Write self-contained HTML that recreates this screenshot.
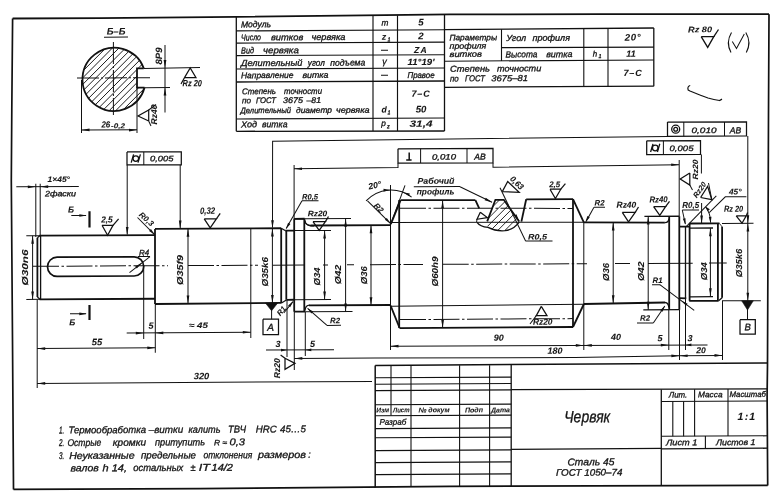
<!DOCTYPE html>
<html lang="ru"><head><meta charset="utf-8"><title>Червяк</title>
<style>
html,body{margin:0;padding:0;background:#fff;}
body{width:780px;height:501px;overflow:hidden;}
svg{display:block;filter:grayscale(100%);}
svg text{font-family:"Liberation Sans","DejaVu Sans",sans-serif;font-style:italic;fill:#151515;stroke:#151515;stroke-width:0.32px;stroke-linejoin:round;}
svg text[font-weight="bold"]{stroke-width:0.08px;}
</style></head><body>
<svg width="780" height="501" viewBox="0 0 780 501">
<rect x="0" y="0" width="780" height="501" fill="#fff"/>
<g transform="matrix(1 -0.0046 0 1 0 0)" stroke="#111" fill="none" stroke-linecap="butt" stroke-linejoin="miter">
<polyline points="12.6,18.56 100,18.66 236,17.99 450,16.47 600,16.86 769,17.74" stroke-width="1.8" fill="none"/>
<polyline points="769,17.74 768.5,118.54 767.5,368.53 767.1,398.53 767.7,488.93" stroke-width="1.7" fill="none"/>
<polyline points="12.6,18.56 11.8,110.05 11.3,180.05 12.5,340.06 13.5,489.46" stroke-width="1.7" fill="none"/>
<polyline points="13.5,489.46 200,489.52 450,488.47 767.7,488.93" stroke-width="1.7" fill="none"/>
<clipPath id="cs"><path d="M 143.76 68.4 A 31.6 31.6 0 1 0 144.56 87.7 L 137.0 87.7 L 137.0 68.4 Z"/></clipPath>
<g clip-path="url(#cs)" stroke-width="0.95" transform="translate(0 0.52)">
<line x1="8.1" y1="119.3" x2="88.1" y2="39.3"/>
<line x1="14.7" y1="119.3" x2="94.7" y2="39.3"/>
<line x1="21.3" y1="119.3" x2="101.3" y2="39.3"/>
<line x1="27.9" y1="119.3" x2="107.9" y2="39.3"/>
<line x1="34.5" y1="119.3" x2="114.5" y2="39.3"/>
<line x1="41.1" y1="119.3" x2="121.1" y2="39.3"/>
<line x1="47.7" y1="119.3" x2="127.7" y2="39.3"/>
<line x1="54.3" y1="119.3" x2="134.3" y2="39.3"/>
<line x1="60.9" y1="119.3" x2="140.9" y2="39.3"/>
<line x1="67.5" y1="119.3" x2="147.5" y2="39.3"/>
<line x1="74.1" y1="119.3" x2="154.1" y2="39.3"/>
<line x1="80.7" y1="119.3" x2="160.7" y2="39.3"/>
<line x1="87.3" y1="119.3" x2="167.3" y2="39.3"/>
<line x1="93.9" y1="119.3" x2="173.9" y2="39.3"/>
<line x1="100.5" y1="119.3" x2="180.5" y2="39.3"/>
<line x1="107.1" y1="119.3" x2="187.1" y2="39.3"/>
<line x1="113.7" y1="119.3" x2="193.7" y2="39.3"/>
<line x1="120.3" y1="119.3" x2="200.3" y2="39.3"/>
<line x1="126.9" y1="119.3" x2="206.9" y2="39.3"/>
<line x1="133.5" y1="119.3" x2="213.5" y2="39.3"/>
<line x1="140.1" y1="119.3" x2="220.1" y2="39.3"/>
<line x1="146.7" y1="119.3" x2="226.7" y2="39.3"/>
<line x1="153.3" y1="119.3" x2="233.3" y2="39.3"/>
<line x1="159.9" y1="119.3" x2="239.9" y2="39.3"/>
</g>
<path d="M 143.76 68.4 A 31.6 31.6 0 1 0 144.56 87.7" stroke-width="1.8" fill="none" transform="translate(0 0.52)"/>
<polyline points="143.76,69.06 137,69.03 137,88.33 144.56,88.36" stroke-width="1.8" fill="none"/>
<line x1="143.76" y1="69.06" x2="200" y2="68.52" stroke-width="1"/>
<line x1="144.56" y1="88.36" x2="170" y2="88.18" stroke-width="1"/>
<line x1="77" y1="78.45" x2="150" y2="78.45" stroke-width="1" stroke-dasharray="22 2 2 2"/>
<line x1="113.4" y1="42.52" x2="113.4" y2="115.52" stroke-width="1" stroke-dasharray="22 2 2 2"/>
<text transform="translate(116 35.03)" font-size="9.5" text-anchor="middle" font-weight="bold">Б–Б</text>
<line x1="104" y1="37.68" x2="128" y2="37.68" stroke-width="1"/>
<line x1="165" y1="45.76" x2="165" y2="113.26" stroke-width="1"/>
<polygon points="165,68.76 163.65,60.76 166.35,60.76" fill="#111" stroke="none"/>
<polygon points="165,88.26 166.35,96.26 163.65,96.26" fill="#111" stroke="none"/>
<text transform="translate(162 65.25) rotate(-90)" font-size="9.2" font-weight="bold" textLength="17" lengthAdjust="spacingAndGlyphs">8P9</text>
<polyline points="184.5,78.45 190.2,68.87 196,78.5 184.5,78.45 181,84.83" stroke-width="1.2" fill="none"/>
<text transform="translate(182.5 87.14)" font-size="9" font-weight="bold" textLength="19.5" lengthAdjust="spacingAndGlyphs">Rz 20</text>
<polyline points="148.7,121.68 138,116.63 148.7,110.68 148.7,121.68" stroke-width="1.2" fill="none"/>
<line x1="148.7" y1="121.68" x2="151" y2="126.69" stroke-width="1"/>
<line x1="148.7" y1="110.68" x2="156" y2="105.22" stroke-width="1"/>
<text transform="translate(157 125.22) rotate(-90)" font-size="8.4" font-weight="bold" textLength="20" lengthAdjust="spacingAndGlyphs">Rz40</text>
<line x1="81.5" y1="80.37" x2="81.5" y2="133.37" stroke-width="1"/>
<line x1="137" y1="88.13" x2="137" y2="133.63" stroke-width="1"/>
<line x1="81.5" y1="130.37" x2="137" y2="130.37" stroke-width="1"/>
<polygon points="81.5,130.37 89.5,129.02 89.5,131.72" fill="#111" stroke="none"/>
<polygon points="137,130.63 129,131.98 129,129.28" fill="#111" stroke="none"/>
<text transform="translate(101.4 128.07)" font-size="8.8" font-weight="bold" textLength="8.8" lengthAdjust="spacingAndGlyphs">26</text>
<text transform="translate(111 128.71)" font-size="7" font-weight="bold" textLength="14" lengthAdjust="spacingAndGlyphs">-0,2</text>
<line x1="236.3" y1="31.99" x2="444.5" y2="31.84" stroke-width="1.15"/>
<line x1="236.3" y1="44.19" x2="444.5" y2="44.24" stroke-width="1.15"/>
<line x1="236.3" y1="56.69" x2="444.5" y2="56.84" stroke-width="1.15"/>
<line x1="236.3" y1="70.09" x2="444.5" y2="70.04" stroke-width="1.15"/>
<line x1="236.3" y1="83.09" x2="444.5" y2="83.04" stroke-width="1.3"/>
<line x1="236.3" y1="120.09" x2="444.5" y2="120.04" stroke-width="1.15"/>
<line x1="236.3" y1="132.39" x2="444.5" y2="133.04" stroke-width="1.3"/>
<line x1="236.3" y1="18.09" x2="236.3" y2="132.39" stroke-width="1.3"/>
<line x1="373" y1="17.12" x2="373" y2="132.82" stroke-width="1.15"/>
<line x1="397.5" y1="17.03" x2="397.5" y2="132.83" stroke-width="1.15"/>
<line x1="444.5" y1="16.54" x2="444.5" y2="133.04" stroke-width="1.3"/>
<text transform="translate(241 28.51)" font-size="8.8" textLength="30" lengthAdjust="spacingAndGlyphs">Модуль</text>
<text transform="translate(241 41.51)" font-size="8.8" textLength="20" lengthAdjust="spacingAndGlyphs">Число</text>
<text transform="translate(271 41.51)" font-size="8.8" textLength="32.3" lengthAdjust="spacingAndGlyphs">витков</text>
<text transform="translate(311.4 41.51)" font-size="8.8" textLength="34.1" lengthAdjust="spacingAndGlyphs">червяка</text>
<text transform="translate(241 54.51)" font-size="8.8" textLength="13" lengthAdjust="spacingAndGlyphs">Вид</text>
<text transform="translate(263 54.51)" font-size="8.8" textLength="35.8" lengthAdjust="spacingAndGlyphs">червяка</text>
<text transform="translate(241 67.21)" font-size="8.8" textLength="61.4" lengthAdjust="spacingAndGlyphs">Делительный</text>
<text transform="translate(307.8 67.21)" font-size="8.8" textLength="17.1" lengthAdjust="spacingAndGlyphs">угол</text>
<text transform="translate(330.3 67.21)" font-size="8.8" textLength="35" lengthAdjust="spacingAndGlyphs">подъема</text>
<text transform="translate(241 79.31)" font-size="8.4" textLength="52.5" lengthAdjust="spacingAndGlyphs">Направление</text>
<text transform="translate(302.4 79.31)" font-size="8.4" textLength="26.1" lengthAdjust="spacingAndGlyphs">витка</text>
<text transform="translate(242 95.31)" font-size="8.4" textLength="34" lengthAdjust="spacingAndGlyphs">Степень</text>
<text transform="translate(284 95.31)" font-size="8.4" textLength="38" lengthAdjust="spacingAndGlyphs">точности</text>
<text transform="translate(242 104.31)" font-size="8.2" textLength="9" lengthAdjust="spacingAndGlyphs">по</text>
<text transform="translate(256 104.31)" font-size="8.2" textLength="20" lengthAdjust="spacingAndGlyphs">ГОСТ</text>
<text transform="translate(283 104.31)" font-size="8.2" textLength="20" lengthAdjust="spacingAndGlyphs">3675</text>
<text transform="translate(306.5 104.31)" font-size="8.2" textLength="14.5" lengthAdjust="spacingAndGlyphs">–81</text>
<text transform="translate(240.5 114.31)" font-size="8.2" textLength="50.5" lengthAdjust="spacingAndGlyphs">Делительный</text>
<text transform="translate(296 114.31)" font-size="8.2" textLength="36" lengthAdjust="spacingAndGlyphs">диаметр</text>
<text transform="translate(336 114.31)" font-size="8.2" textLength="33.5" lengthAdjust="spacingAndGlyphs">червяка</text>
<text transform="translate(241 128.51)" font-size="8.8" textLength="16" lengthAdjust="spacingAndGlyphs">Ход</text>
<text transform="translate(262 128.51)" font-size="8.8" textLength="25.5" lengthAdjust="spacingAndGlyphs">витка</text>
<text transform="translate(385 27.37)" font-size="8.3" text-anchor="middle">m</text>
<text transform="translate(384 41.37)" font-size="8.3" text-anchor="middle">z</text>
<text transform="translate(387.5 43.08)" font-size="5.5">1</text>
<line x1="381" y1="52.05" x2="388" y2="52.05" stroke-width="1"/>
<text transform="translate(384.5 66.37)" font-size="9" text-anchor="middle">γ</text>
<line x1="381" y1="77.05" x2="388" y2="77.05" stroke-width="1"/>
<text transform="translate(384 114.37)" font-size="8.6" text-anchor="middle" font-weight="bold">d</text>
<text transform="translate(387.6 115.98)" font-size="5.5">1</text>
<text transform="translate(383.5 127.76)" font-size="8.3" text-anchor="middle">p</text>
<text transform="translate(387 130.08)" font-size="5.5">z</text>
<text transform="translate(421 27.54)" font-size="9.6" text-anchor="middle" font-weight="bold">5</text>
<text transform="translate(421 41.14)" font-size="9.6" text-anchor="middle" font-weight="bold">2</text>
<text transform="translate(421 54.94)" font-size="8.6" text-anchor="middle" font-weight="bold" letter-spacing="1.2">ZA</text>
<text transform="translate(421 66.94)" font-size="9" text-anchor="middle" font-weight="bold" textLength="27" lengthAdjust="spacingAndGlyphs">11°19′</text>
<text transform="translate(421 79.94)" font-size="8.4" text-anchor="middle" textLength="27" lengthAdjust="spacingAndGlyphs">Правое</text>
<text transform="translate(421 98.74)" font-size="9" text-anchor="middle" font-weight="bold" letter-spacing="0.8">7–C</text>
<text transform="translate(421 114.44)" font-size="9.6" text-anchor="middle" font-weight="bold">50</text>
<text transform="translate(421 128.74)" font-size="9" text-anchor="middle" font-weight="bold" textLength="23" lengthAdjust="spacingAndGlyphs">31,4</text>
<line x1="444.5" y1="31.74" x2="653.8" y2="31.01" stroke-width="1.3"/>
<line x1="501.5" y1="49.91" x2="653.8" y2="50.11" stroke-width="1.1"/>
<line x1="444.5" y1="63.24" x2="653.8" y2="63.01" stroke-width="1.1"/>
<line x1="444.5" y1="89.34" x2="653.8" y2="89.21" stroke-width="1.3"/>
<line x1="653.8" y1="31.01" x2="653.8" y2="89.21" stroke-width="1.3"/>
<line x1="501.5" y1="31.61" x2="501.5" y2="63.31" stroke-width="1.1"/>
<line x1="583.8" y1="31.29" x2="583.8" y2="89.29" stroke-width="1.1"/>
<line x1="608" y1="31.2" x2="608" y2="89.3" stroke-width="1.1"/>
<text transform="translate(449.5 42.47)" font-size="8.2" textLength="47.5" lengthAdjust="spacingAndGlyphs">Параметры</text>
<text transform="translate(449.5 50.77)" font-size="8.2" textLength="36.8" lengthAdjust="spacingAndGlyphs">профиля</text>
<text transform="translate(449.5 58.97)" font-size="8.2" textLength="32.5" lengthAdjust="spacingAndGlyphs">витков</text>
<text transform="translate(506.2 43.33)" font-size="8.8" textLength="20" lengthAdjust="spacingAndGlyphs">Угол</text>
<text transform="translate(532.5 43.33)" font-size="8.8" textLength="37.5" lengthAdjust="spacingAndGlyphs">профиля</text>
<text transform="translate(505.5 59.73)" font-size="8.8" textLength="32" lengthAdjust="spacingAndGlyphs">Высота</text>
<text transform="translate(546.2 59.73)" font-size="8.8" textLength="26.3" lengthAdjust="spacingAndGlyphs">витка</text>
<text transform="translate(450 73.77)" font-size="8.6" textLength="40" lengthAdjust="spacingAndGlyphs">Степень</text>
<text transform="translate(497 73.77)" font-size="8.6" textLength="44.3" lengthAdjust="spacingAndGlyphs">точности</text>
<text transform="translate(450 83.47)" font-size="8.6" textLength="8.8" lengthAdjust="spacingAndGlyphs">по</text>
<text transform="translate(465 83.47)" font-size="8.6" textLength="20" lengthAdjust="spacingAndGlyphs">ГОСТ</text>
<text transform="translate(491.3 83.47)" font-size="8.6" textLength="36.7" lengthAdjust="spacingAndGlyphs">3675–81</text>
<text transform="translate(595 59.34)" font-size="8" text-anchor="middle">h</text>
<text transform="translate(598.5 60.75)" font-size="5.5">1</text>
<text transform="translate(633 43.51)" font-size="9.6" text-anchor="middle" font-weight="bold" letter-spacing="0.6">20°</text>
<text transform="translate(631 59.7)" font-size="9" text-anchor="middle" font-weight="bold">11</text>
<text transform="translate(633 78.91)" font-size="9" text-anchor="middle" font-weight="bold" letter-spacing="0.8">7–C</text>
<text transform="translate(688 35.56)" font-size="8.2" font-weight="bold" textLength="24" lengthAdjust="spacingAndGlyphs">Rz 80</text>
<polyline points="701.2,39.83 713.8,39.88 707.7,50.66 701.2,39.83" stroke-width="1.3" fill="none"/>
<line x1="713.8" y1="39.88" x2="718.5" y2="32.81" stroke-width="1.3"/>
<path d="M 731.5 32.5 Q 725.5 42.5 731 52.5" stroke-width="1.1" fill="none" transform="translate(0 3.39)"/>
<path d="M 745.8 32.5 Q 751.8 42.5 746.3 52.5" stroke-width="1.1" fill="none" transform="translate(0 3.39)"/>
<polyline points="732.3,44.87 736.5,51.99 744.3,37.42" stroke-width="1" fill="none"/>
<path d="M 690.2 85.4 Q 687 86.4 688.2 90 L 690 91 Q 702 96 708 98 Q 714 99.6 719.5 100.6 L 722 99.2" stroke-width="1.2" fill="none" transform="translate(0 3.24)"/>
<line x1="33" y1="266.44" x2="168" y2="266.43" stroke-width="1" stroke-dasharray="26 2.5 2.5 2.5"/>
<line x1="188" y1="266.43" x2="258" y2="266.42" stroke-width="1" stroke-dasharray="26 2.5 2.5 2.5"/>
<line x1="272.7" y1="266.42" x2="305" y2="266.41" stroke-width="1"/>
<line x1="323" y1="266.41" x2="328" y2="266.41" stroke-width="1"/>
<line x1="347" y1="266.41" x2="354" y2="266.41" stroke-width="1"/>
<line x1="370" y1="266.41" x2="423" y2="266.4" stroke-width="1" stroke-dasharray="26 2.5 2.5 2.5"/>
<line x1="442.7" y1="266.4" x2="587" y2="266.39" stroke-width="1" stroke-dasharray="26 2.5 2.5 2.5"/>
<line x1="615" y1="266.38" x2="630" y2="266.38" stroke-width="1"/>
<line x1="648" y1="266.38" x2="692.7" y2="266.37" stroke-width="1"/>
<line x1="709" y1="266.37" x2="726.7" y2="266.37" stroke-width="1"/>
<line x1="37.4" y1="237.97" x2="37.4" y2="297.17" stroke-width="1.8"/>
<line x1="40.6" y1="235.79" x2="40.6" y2="299.39" stroke-width="1.3"/>
<line x1="37.4" y1="237.97" x2="40" y2="235.78" stroke-width="1.3"/>
<line x1="37.4" y1="297.17" x2="40" y2="299.38" stroke-width="1.3"/>
<line x1="39.5" y1="235.86" x2="155" y2="235.86" stroke-width="1.8"/>
<line x1="39.5" y1="299.46" x2="155" y2="299.46" stroke-width="1.8"/>
<line x1="155" y1="229.61" x2="155" y2="304.71" stroke-width="1.8"/>
<line x1="155" y1="229.52" x2="281.2" y2="229.52" stroke-width="1.8"/>
<line x1="155" y1="304.71" x2="281.5" y2="304.19" stroke-width="1.8"/>
<line x1="250.8" y1="229.55" x2="250.8" y2="339.15" stroke-width="1"/>
<line x1="281.2" y1="229.49" x2="281.2" y2="304.29" stroke-width="1.8"/>
<line x1="281.2" y1="229.49" x2="285.6" y2="232.01" stroke-width="1.3"/>
<line x1="281.5" y1="304.29" x2="286.8" y2="301.12" stroke-width="1.3"/>
<line x1="286.3" y1="232.02" x2="286.3" y2="301.12" stroke-width="1.8"/>
<line x1="285.4" y1="232.01" x2="294.2" y2="232.01" stroke-width="1.8"/>
<line x1="286.8" y1="301.12" x2="294.2" y2="301.12" stroke-width="1.8"/>
<line x1="294.2" y1="231.95" x2="331" y2="231.95" stroke-width="1"/>
<line x1="294.2" y1="301.05" x2="331" y2="301.05" stroke-width="1"/>
<line x1="294.2" y1="220.15" x2="294.2" y2="313.05" stroke-width="1.8"/>
<line x1="304.3" y1="220.2" x2="304.3" y2="313.1" stroke-width="1.8"/>
<line x1="294.2" y1="220.15" x2="304.6" y2="220.15" stroke-width="1.8"/>
<line x1="304.6" y1="220.15" x2="351" y2="220.15" stroke-width="1"/>
<line x1="294.2" y1="313.05" x2="305.4" y2="313.05" stroke-width="1.8"/>
<line x1="305.4" y1="313.05" x2="352.5" y2="313.05" stroke-width="1"/>
<path d="M 304.5 219.5 Q 304.8 225.5 311 225.6" stroke-width="1.3" fill="none" transform="translate(0 1.41)"/>
<path d="M 305 310.5 Q 305.4 305.2 309.5 305.1" stroke-width="1.3" fill="none" transform="translate(0 1.41)"/>
<line x1="310.5" y1="226.93" x2="390.8" y2="226.93" stroke-width="1.8"/>
<line x1="309" y1="306.81" x2="390.6" y2="306.81" stroke-width="1.8"/>
<line x1="390.8" y1="225.9" x2="400.6" y2="201.94" stroke-width="1.8"/>
<line x1="390.6" y1="307.4" x2="399.6" y2="329.84" stroke-width="1.8"/>
<line x1="399.2" y1="201.94" x2="399.2" y2="329.84" stroke-width="1.8"/>
<line x1="400.6" y1="201.94" x2="475.4" y2="202.39" stroke-width="1.8"/>
<line x1="526.2" y1="201.72" x2="573" y2="201.74" stroke-width="1.8"/>
<line x1="399.5" y1="329.94" x2="573" y2="329.64" stroke-width="1.8"/>
<line x1="573" y1="201.74" x2="573" y2="329.64" stroke-width="1.8"/>
<line x1="573" y1="201.74" x2="583.8" y2="224.99" stroke-width="1.8"/>
<line x1="573" y1="329.64" x2="583.9" y2="306.69" stroke-width="1.8"/>
<line x1="390.5" y1="186.8" x2="390.5" y2="351.8" stroke-width="1"/>
<line x1="583.8" y1="224.69" x2="583.8" y2="352.69" stroke-width="1"/>
<line x1="391" y1="224.3" x2="583.8" y2="224.89" stroke-width="1"/>
<line x1="391" y1="308" x2="583.5" y2="306.88" stroke-width="1"/>
<line x1="400" y1="210.04" x2="573" y2="211.04" stroke-width="1" stroke-dasharray="26 2.5 2.5 2.5"/>
<line x1="400" y1="321.44" x2="573" y2="321.24" stroke-width="1" stroke-dasharray="26 2.5 2.5 2.5"/>
<line x1="583.8" y1="224.99" x2="664.9" y2="225.76" stroke-width="1.8"/>
<line x1="583.9" y1="306.69" x2="665" y2="305.56" stroke-width="1.8"/>
<path d="M 664.9 222.7 Q 668.6 222.6 669 218.6" stroke-width="1.3" fill="none" transform="translate(0 3.07)"/>
<path d="M 665 302.5 Q 668.6 302.8 668.8 307.6" stroke-width="1.3" fill="none" transform="translate(0 3.07)"/>
<line x1="669.2" y1="219.38" x2="669.2" y2="312.78" stroke-width="1.8"/>
<line x1="679.3" y1="219.42" x2="679.3" y2="312.82" stroke-width="1.8"/>
<line x1="644.4" y1="219.39" x2="679.3" y2="219.39" stroke-width="1.3"/>
<line x1="643.3" y1="312.74" x2="679.5" y2="312.74" stroke-width="1.3"/>
<line x1="679.2" y1="163.12" x2="679.2" y2="219.42" stroke-width="1"/>
<line x1="679.5" y1="312.83" x2="679.5" y2="363.13" stroke-width="1"/>
<line x1="679.3" y1="229.82" x2="689.4" y2="229.82" stroke-width="1.8"/>
<line x1="679.6" y1="301.33" x2="686.3" y2="301.56" stroke-width="1.8"/>
<line x1="685.5" y1="229.85" x2="685.5" y2="301.45" stroke-width="1.3"/>
<line x1="685.5" y1="301.45" x2="685.5" y2="353.15" stroke-width="1"/>
<line x1="689.6" y1="226.67" x2="689.6" y2="303.97" stroke-width="1.8"/>
<line x1="689.4" y1="226.67" x2="719.5" y2="226.71" stroke-width="1.8"/>
<line x1="719.5" y1="226.71" x2="722.2" y2="230.32" stroke-width="0.8"/>
<line x1="722.1" y1="230.12" x2="722.1" y2="301.12" stroke-width="1.8"/>
<line x1="722.1" y1="301.12" x2="718.6" y2="304.11" stroke-width="1.3"/>
<line x1="689.2" y1="304.07" x2="718.6" y2="304.11" stroke-width="1.8"/>
<line x1="717.9" y1="226.7" x2="717.9" y2="303.9" stroke-width="1.8"/>
<line x1="722" y1="226.72" x2="753.5" y2="226.77" stroke-width="1"/>
<line x1="722" y1="304.12" x2="760.8" y2="304.2" stroke-width="1"/>
<line x1="690" y1="231.27" x2="713" y2="231.28" stroke-width="1.3"/>
<line x1="690" y1="299.97" x2="713" y2="299.98" stroke-width="1.3"/>
<line x1="722.5" y1="304.32" x2="722.5" y2="363.32" stroke-width="1"/>
<path d="M 57.1 257 L 134.1 257 A 9.6 9.6 0 0 1 134.1 276.2 L 57.1 276.2 A 9.6 9.6 0 0 1 57.1 257 Z" stroke-width="1.7" fill="none" transform="translate(0 0.44)"/>
<clipPath id="ct"><path d="M 495.4 199.8 L 503.8 199.8 L 519.2 221.6 Q 514 229.5 505 230.6 Q 494 231 486 225.5 L 487.2 221.2 Z"/></clipPath>
<g clip-path="url(#ct)" stroke-width="0.9" transform="translate(0 2.3)">
<line x1="445" y1="240" x2="495" y2="190"/>
<line x1="452.2" y1="240" x2="502.2" y2="190"/>
<line x1="459.4" y1="240" x2="509.4" y2="190"/>
<line x1="466.6" y1="240" x2="516.6" y2="190"/>
<line x1="473.8" y1="240" x2="523.8" y2="190"/>
<line x1="481" y1="240" x2="531" y2="190"/>
<line x1="488.2" y1="240" x2="538.2" y2="190"/>
<line x1="495.4" y1="240" x2="545.4" y2="190"/>
<line x1="502.6" y1="240" x2="552.6" y2="190"/>
<line x1="509.8" y1="240" x2="559.8" y2="190"/>
<line x1="517" y1="240" x2="567" y2="190"/>
<line x1="524.2" y1="240" x2="574.2" y2="190"/>
</g>
<polyline points="487.2,223.64 495.4,202.08 503.8,202.12 519.2,223.99" stroke-width="1.8" fill="none"/>
<path d="M 477 222.2 Q 480 226.5 488 227.3 Q 496 231.5 505 230.7 Q 514 229.6 519.2 222.3" stroke-width="1.3" fill="none" transform="translate(0 2.3)"/>
<line x1="475.4" y1="202.39" x2="479.2" y2="210.7" stroke-width="1.8"/>
<polyline points="480.3,214.41 487.3,219.84 477,221.49 480.3,214.41" stroke-width="1.25" fill="none"/>
<line x1="477" y1="221.49" x2="476.6" y2="224.19" stroke-width="1"/>
<line x1="526.2" y1="201.72" x2="521.4" y2="224" stroke-width="1.8"/>
<line x1="500" y1="190" x2="525.6" y2="243.42" stroke-width="1"/>
<polygon points="519.4,224.19 514.36,217.86 516.44,216.66" fill="#111" stroke="none"/>
<line x1="525.5" y1="243.42" x2="552.5" y2="243.42" stroke-width="1"/>
<text transform="translate(528 242.03)" font-size="7.8" font-weight="bold" textLength="19" lengthAdjust="spacingAndGlyphs">R0,5</text>
<polyline points="502.3,193.91 507.7,183.84 519.2,194.69 502.3,193.91" stroke-width="1.25" fill="none"/>
<text transform="translate(509.4 181.94) rotate(44)" font-size="8.4" font-weight="bold" textLength="15.5" lengthAdjust="spacingAndGlyphs">0,63</text>
<polyline points="550,191.73 560.8,191.78 555.4,201.15 550,191.73" stroke-width="1.25" fill="none"/>
<line x1="560.8" y1="191.78" x2="565.4" y2="186.2" stroke-width="1.25"/>
<text transform="translate(549.2 189.83)" font-size="8.4" font-weight="bold" textLength="11" lengthAdjust="spacingAndGlyphs">2,5</text>
<line x1="35.8" y1="183.86" x2="35.8" y2="237.16" stroke-width="1"/>
<line x1="40.2" y1="183.88" x2="40.2" y2="236.18" stroke-width="1"/>
<line x1="16.3" y1="186.87" x2="78.8" y2="186.87" stroke-width="1"/>
<polygon points="35.8,186.96 27.8,188.31 27.8,185.61" fill="#111" stroke="none"/>
<polygon points="40.2,186.88 48.2,185.53 48.2,188.23" fill="#111" stroke="none"/>
<text transform="translate(47.5 182.22)" font-size="8" font-weight="bold" textLength="22.5" lengthAdjust="spacingAndGlyphs">1×45°</text>
<text transform="translate(45 196.51)" font-size="7.8" textLength="31" lengthAdjust="spacingAndGlyphs">2фаски</text>
<text transform="translate(68 212.81)" font-size="8.5" font-weight="bold">Б</text>
<line x1="71.3" y1="215.83" x2="86" y2="215.83" stroke-width="1"/>
<polygon points="86.8,215.9 79.3,217.2 79.3,214.6" fill="#111" stroke="none"/>
<line x1="89.5" y1="211.61" x2="89.5" y2="227.91" stroke-width="2.2"/>
<text transform="translate(69.3 325.62)" font-size="8.5" font-weight="bold">Б</text>
<line x1="70" y1="314.12" x2="86" y2="314.12" stroke-width="1"/>
<polygon points="86.8,314.2 79.3,315.5 79.3,312.9" fill="#111" stroke="none"/>
<line x1="89.5" y1="305.41" x2="89.5" y2="320.41" stroke-width="2.2"/>
<polyline points="102,225.77 113,225.82 107.6,235.69 102,225.77" stroke-width="1.25" fill="none"/>
<line x1="113" y1="225.82" x2="118.6" y2="219.35" stroke-width="1.25"/>
<text transform="translate(101.2 223.07)" font-size="8.6" font-weight="bold" textLength="11.5" lengthAdjust="spacingAndGlyphs">2,5</text>
<polyline points="127,152.58 181.3,152.63 181.3,165.63 127,165.58 127,152.58" stroke-width="1.25" fill="none"/>
<line x1="143.8" y1="152.66" x2="143.8" y2="165.66" stroke-width="1"/>
<path d="M 131.2 162.6 L 133.6 154.4 M 138 162.6 L 140.4 154.4" stroke-width="1.3" fill="none" transform="translate(0 0.62)"/>
<circle cx="135.8" cy="159.22" r="2.8" stroke-width="1.3" fill="none"/>
<text transform="translate(150 161.99)" font-size="7.8" textLength="23.5" lengthAdjust="spacingAndGlyphs">0,005</text>
<line x1="127.2" y1="165.59" x2="127.2" y2="235.19" stroke-width="1"/>
<polygon points="127.2,235.59 125.85,227.59 128.55,227.59" fill="#111" stroke="none"/>
<line x1="180.2" y1="165.83" x2="180.2" y2="228.83" stroke-width="1"/>
<polygon points="180.2,229.43 178.85,221.43 181.55,221.43" fill="#111" stroke="none"/>
<line x1="137.5" y1="218.13" x2="154.3" y2="235.01" stroke-width="1"/>
<polygon points="154.6,235.31 149.05,231.67 150.96,229.76" fill="#111" stroke="none"/>
<text transform="translate(138.6 216.24) rotate(42)" font-size="7.8" font-weight="bold" textLength="16.5" lengthAdjust="spacingAndGlyphs">R0,3</text>
<text transform="translate(139 256.04)" font-size="8">R4</text>
<line x1="138" y1="257.23" x2="150" y2="257.23" stroke-width="1"/>
<line x1="150" y1="257.29" x2="129.5" y2="273.2" stroke-width="1"/>
<polygon points="142.3,263.25 136.8,269.2 135.2,267.16" fill="#111" stroke="none"/>
<line x1="26.3" y1="235.92" x2="40" y2="235.92" stroke-width="1"/>
<line x1="26.3" y1="299.52" x2="40" y2="299.52" stroke-width="1"/>
<line x1="32.6" y1="235.95" x2="32.6" y2="299.55" stroke-width="1"/>
<polygon points="32.6,235.95 33.95,243.95 31.25,243.95" fill="#111" stroke="none"/>
<polygon points="32.6,299.55 31.25,291.55 33.95,291.55" fill="#111" stroke="none"/>
<text transform="translate(28.2 285.63) rotate(-90)" font-size="8.6" font-weight="bold" textLength="36" lengthAdjust="spacingAndGlyphs">Ø30n6</text>
<line x1="188" y1="229.66" x2="188" y2="304.46" stroke-width="1"/>
<polygon points="188,229.66 189.35,237.66 186.65,237.66" fill="#111" stroke="none"/>
<polygon points="188,304.46 186.65,296.46 189.35,296.46" fill="#111" stroke="none"/>
<text transform="translate(182.6 285.84) rotate(-90)" font-size="8.6" font-weight="bold" textLength="30" lengthAdjust="spacingAndGlyphs">Ø35f9</text>
<polyline points="204.2,219.84 216.4,219.9 210.2,228.77 204.2,219.84" stroke-width="1.25" fill="none"/>
<line x1="216.4" y1="219.9" x2="220.2" y2="214.31" stroke-width="1.25"/>
<text transform="translate(200 214.82)" font-size="9.2" font-weight="bold" textLength="15.2" lengthAdjust="spacingAndGlyphs">0,32</text>
<line x1="37.2" y1="299.57" x2="37.2" y2="388.17" stroke-width="1"/>
<line x1="143.7" y1="266.66" x2="143.7" y2="339.66" stroke-width="1"/>
<line x1="155.3" y1="304.71" x2="155.3" y2="353.41" stroke-width="1"/>
<line x1="37.2" y1="348.77" x2="155.3" y2="348.51" stroke-width="1"/>
<polygon points="37.2,348.77 45.2,347.42 45.2,350.12" fill="#111" stroke="none"/>
<polygon points="155.3,348.51 147.3,349.86 147.3,347.16" fill="#111" stroke="none"/>
<text transform="translate(97 345.65)" font-size="9.3" text-anchor="middle" font-weight="bold">55</text>
<line x1="126.7" y1="333.68" x2="250.8" y2="333.35" stroke-width="1"/>
<polygon points="143.8,333.66 135.8,335.01 135.8,332.31" fill="#111" stroke="none"/>
<polygon points="155.3,333.61 163.3,332.26 163.3,334.96" fill="#111" stroke="none"/>
<polygon points="250.8,333.35 242.8,334.7 242.8,332" fill="#111" stroke="none"/>
<text transform="translate(148.4 329.48)" font-size="9" font-weight="bold">5</text>
<text transform="translate(189 328.87)" font-size="8" font-weight="bold" textLength="19" lengthAdjust="spacingAndGlyphs">≈ 45</text>
<line x1="37.2" y1="383.57" x2="372" y2="383.11" stroke-width="1"/>
<polygon points="37.2,383.57 45.2,382.22 45.2,384.92" fill="#111" stroke="none"/>
<text transform="translate(201.5 380.13)" font-size="9.3" text-anchor="middle" font-weight="bold">320</text>
<line x1="272.4" y1="229.65" x2="272.4" y2="304.25" stroke-width="1"/>
<polygon points="272.4,229.65 273.75,237.65 271.05,237.65" fill="#111" stroke="none"/>
<polygon points="272.4,304.25 271.05,296.25 273.75,296.25" fill="#111" stroke="none"/>
<text transform="translate(268 287.73) rotate(-90)" font-size="8.6" font-weight="bold" textLength="29.5" lengthAdjust="spacingAndGlyphs">Ø35k6</text>
<polygon points="265.4,304.22 277.7,304.28 271.6,312.05" stroke-width="0.6" fill="#111"/>
<line x1="271.6" y1="311.25" x2="271.6" y2="320.45" stroke-width="1"/>
<polyline points="263,320.41 278.5,320.48 278.5,335.88 263,335.81 263,320.41" stroke-width="1.25" fill="none"/>
<text transform="translate(270.7 332.05)" font-size="10" text-anchor="middle">A</text>
<line x1="283.8" y1="314.31" x2="293" y2="302.95" stroke-width="1"/>
<polygon points="293.2,302.65 290.16,308.55 288.06,306.85" fill="#111" stroke="none"/>
<text transform="translate(280.3 317.59) rotate(-50)" font-size="7.6" font-weight="bold">R1</text>
<line x1="327" y1="326.9" x2="341" y2="326.9" stroke-width="1"/>
<line x1="327" y1="326.9" x2="307.6" y2="309.81" stroke-width="1"/>
<polygon points="307.4,309.61 313.19,312.86 311.42,314.9" fill="#111" stroke="none"/>
<text transform="translate(330 324.72)" font-size="7.8" font-weight="bold">R2</text>
<line x1="287" y1="301.32" x2="287" y2="358.32" stroke-width="1"/>
<line x1="294.3" y1="313.05" x2="294.3" y2="371.35" stroke-width="1"/>
<line x1="305.3" y1="313.1" x2="305.3" y2="357.4" stroke-width="1"/>
<line x1="266" y1="351.22" x2="334" y2="351.22" stroke-width="1"/>
<polygon points="287,351.32 281,352.67 281,349.97" fill="#111" stroke="none"/>
<polygon points="305.3,351.3 311.3,349.95 311.3,352.65" fill="#111" stroke="none"/>
<text transform="translate(275.5 348.27)" font-size="9" font-weight="bold">3</text>
<text transform="translate(310 348.43)" font-size="9" font-weight="bold">5</text>
<polyline points="285,359.61 295,364.76 285,370.61 285,359.61" stroke-width="1.25" fill="none"/>
<line x1="285" y1="359.61" x2="280.6" y2="356.29" stroke-width="1.25"/>
<text transform="translate(279.8 379.49) rotate(-90)" font-size="8.4" font-weight="bold" textLength="20" lengthAdjust="spacingAndGlyphs">Rz20</text>
<line x1="324.6" y1="232.09" x2="324.6" y2="301.09" stroke-width="1"/>
<polygon points="324.6,232.09 325.95,240.09 323.25,240.09" fill="#111" stroke="none"/>
<polygon points="324.6,301.09 323.25,293.09 325.95,293.09" fill="#111" stroke="none"/>
<text transform="translate(320.3 286.97) rotate(-90)" font-size="8.6" font-weight="bold" textLength="18" lengthAdjust="spacingAndGlyphs">Ø34</text>
<line x1="345.6" y1="220.39" x2="345.6" y2="313.19" stroke-width="1"/>
<polygon points="345.6,220.39 346.95,228.39 344.25,228.39" fill="#111" stroke="none"/>
<polygon points="345.6,313.19 344.25,305.19 346.95,305.19" fill="#111" stroke="none"/>
<text transform="translate(341 285.77) rotate(-90)" font-size="8.6" font-weight="bold" textLength="19.5" lengthAdjust="spacingAndGlyphs">Ø42</text>
<line x1="371" y1="226.91" x2="371" y2="306.91" stroke-width="1"/>
<polygon points="371,226.91 372.35,234.91 369.65,234.91" fill="#111" stroke="none"/>
<polygon points="371,306.91 369.65,298.91 372.35,298.91" fill="#111" stroke="none"/>
<text transform="translate(366.6 285.89) rotate(-90)" font-size="8.6" font-weight="bold" textLength="18" lengthAdjust="spacingAndGlyphs">Ø36</text>
<line x1="302" y1="202.19" x2="318.5" y2="202.19" stroke-width="1"/>
<line x1="302" y1="202.19" x2="286.2" y2="229.92" stroke-width="1"/>
<polygon points="286,230.32 288.08,224.01 290.42,225.36" fill="#111" stroke="none"/>
<text transform="translate(302 200.99)" font-size="7.8" font-weight="bold" textLength="16" lengthAdjust="spacingAndGlyphs">R0,5</text>
<polyline points="313,223.04 325.4,223.1 319.2,231.77 313,223.04" stroke-width="1.25" fill="none"/>
<line x1="325.4" y1="223.1" x2="328.5" y2="218.01" stroke-width="1.25"/>
<text transform="translate(307.7 217.72)" font-size="8" font-weight="bold" textLength="19.5" lengthAdjust="spacingAndGlyphs">Rz20</text>
<path d="M 305 220.6 Q 305.5 226.3 314 226" stroke-width="1" fill="none" transform="translate(0 1.42)"/>
<line x1="294.2" y1="220.35" x2="305" y2="220.35" stroke-width="1"/>
<line x1="442.6" y1="202.34" x2="442.6" y2="330.04" stroke-width="1"/>
<polygon points="442.6,202.34 443.95,210.34 441.25,210.34" fill="#111" stroke="none"/>
<polygon points="442.6,330.04 441.25,322.04 443.95,322.04" fill="#111" stroke="none"/>
<text transform="translate(437.6 288.51) rotate(-90)" font-size="8.6" font-weight="bold" textLength="30" lengthAdjust="spacingAndGlyphs">Ø60h9</text>
<line x1="390.8" y1="225.6" x2="405" y2="187.26" stroke-width="1"/>
<path d="M 366.08 200.85 A 33.8 33.8 0 0 1 411.61 197.27" stroke-width="1" fill="none" transform="translate(0 1.79)"/>
<polygon points="390.51,191.9 383.51,193.25 383.51,190.55" fill="#111" stroke="none"/>
<polygon points="402.8,194.16 409.82,195.4 408.85,197.92" fill="#111" stroke="none"/>
<text transform="translate(369 191.3) rotate(-12)" font-size="8.6" font-weight="bold">20°</text>
<line x1="367.5" y1="202.49" x2="390.4" y2="225.2" stroke-width="1"/>
<polygon points="390.8,225.6 384.9,221.6 386.8,219.69" fill="#111" stroke="none"/>
<text transform="translate(373.2 207.92) rotate(45)" font-size="8" font-weight="bold">R2</text>
<text transform="translate(417.5 185.72)" font-size="8.3" font-weight="bold" textLength="37" lengthAdjust="spacingAndGlyphs">Рабочий</text>
<line x1="413.8" y1="188.7" x2="460" y2="188.7" stroke-width="1"/>
<text transform="translate(416.8 196.52)" font-size="8.3" font-weight="bold" textLength="37.5" lengthAdjust="spacingAndGlyphs">профиль</text>
<line x1="460" y1="188.82" x2="492" y2="204.56" stroke-width="1"/>
<polygon points="492.4,204.77 484.64,202.43 485.78,200.09" fill="#111" stroke="none"/>
<polyline points="398,150.63 493,150.67 493,165.17 398,165.03 398,150.63" stroke-width="1.25" fill="none"/>
<line x1="420.6" y1="150.73" x2="420.6" y2="165.03" stroke-width="1"/>
<line x1="467" y1="150.75" x2="467" y2="165.15" stroke-width="1"/>
<path d="M 409.2 152.4 L 409.2 160 M 406.2 160 L 411.6 160" stroke-width="1.5" fill="none" transform="translate(0 1.88)"/>
<text transform="translate(444 161.64)" font-size="7.8" text-anchor="middle" textLength="24" lengthAdjust="spacingAndGlyphs">0,010</text>
<text transform="translate(480 161.81)" font-size="8.6" text-anchor="middle">AB</text>
<polyline points="398,165.03 398,169.43 294,170.15" stroke-width="1" fill="none"/>
<polygon points="294,170.15 302,168.8 302,171.5" fill="#111" stroke="none"/>
<line x1="294.1" y1="166.35" x2="294.1" y2="220.15" stroke-width="1"/>
<polyline points="493,165.17 493,169.47 679,167.82" stroke-width="1" fill="none"/>
<polygon points="679.2,167.82 671.2,169.17 671.2,166.47" fill="#111" stroke="none"/>
<polyline points="667.5,139.47 272.6,142.45 272.5,228.85" stroke-width="1" fill="none"/>
<polygon points="272.5,229.45 271.15,221.45 273.85,221.45" fill="#111" stroke="none"/>
<line x1="613.2" y1="225.32" x2="613.2" y2="306.12" stroke-width="1"/>
<polygon points="613.2,225.32 614.55,233.32 611.85,233.32" fill="#111" stroke="none"/>
<polygon points="613.2,306.12 611.85,298.12 614.55,298.12" fill="#111" stroke="none"/>
<text transform="translate(609 283.8) rotate(-90)" font-size="8.6" font-weight="bold" textLength="18" lengthAdjust="spacingAndGlyphs">Ø36</text>
<line x1="648.2" y1="219.38" x2="648.2" y2="312.68" stroke-width="1"/>
<polygon points="648.2,219.38 649.55,227.38 646.85,227.38" fill="#111" stroke="none"/>
<polygon points="648.2,312.68 646.85,304.68 649.55,304.68" fill="#111" stroke="none"/>
<text transform="translate(644 283.96) rotate(-90)" font-size="8.6" font-weight="bold" textLength="19.5" lengthAdjust="spacingAndGlyphs">Ø42</text>
<line x1="594" y1="209.93" x2="605" y2="209.93" stroke-width="1"/>
<line x1="594" y1="209.93" x2="586" y2="224.2" stroke-width="1"/>
<polygon points="585.4,225.09 587.37,218.75 589.73,220.06" fill="#111" stroke="none"/>
<text transform="translate(594.5 208.33)" font-size="7.8" font-weight="bold">R2</text>
<polyline points="622.3,215.26 635.2,215.32 628.5,224.69 622.3,215.26" stroke-width="1.25" fill="none"/>
<line x1="635.2" y1="215.32" x2="638.5" y2="209.94" stroke-width="1.25"/>
<text transform="translate(616.6 210.64)" font-size="8.6" font-weight="bold" textLength="19.6" lengthAdjust="spacingAndGlyphs">Rz40</text>
<polyline points="653.6,209.61 665.6,209.66 659.8,218.34 653.6,209.61" stroke-width="1.25" fill="none"/>
<line x1="665.6" y1="209.66" x2="669.5" y2="204.38" stroke-width="1.25"/>
<text transform="translate(649.4 205.39)" font-size="8.6" font-weight="bold" textLength="18.2" lengthAdjust="spacingAndGlyphs">Rz40</text>
<polyline points="541.3,308.89 547,318.12 536.3,318.07 541.3,308.89" stroke-width="1.25" fill="none"/>
<line x1="536.3" y1="318.07" x2="530" y2="326.44" stroke-width="1"/>
<text transform="translate(533 327.25)" font-size="8.6" font-weight="bold" textLength="19.5" lengthAdjust="spacingAndGlyphs">Rz20</text>
<line x1="668.8" y1="312.78" x2="668.8" y2="353.08" stroke-width="1"/>
<line x1="390.5" y1="348" x2="707.5" y2="348.15" stroke-width="1"/>
<polygon points="390.5,348 398.5,346.65 398.5,349.35" fill="#111" stroke="none"/>
<polygon points="583.8,348.09 575.8,349.44 575.8,346.74" fill="#111" stroke="none"/>
<polygon points="583.8,348.09 591.8,346.74 591.8,349.44" fill="#111" stroke="none"/>
<polygon points="668.8,348.18 660.8,349.53 660.8,346.83" fill="#111" stroke="none"/>
<polygon points="685.4,348.15 691.4,346.8 691.4,349.5" fill="#111" stroke="none"/>
<text transform="translate(498.8 343.09)" font-size="9" text-anchor="middle" font-weight="bold">90</text>
<text transform="translate(616 342.83)" font-size="9" text-anchor="middle" font-weight="bold">40</text>
<text transform="translate(660 344.24)" font-size="9" text-anchor="middle" font-weight="bold">5</text>
<text transform="translate(690 344.37)" font-size="9" text-anchor="middle" font-weight="bold">3</text>
<polyline points="294.3,359.85 375,359.83 575,360.14 679,358.92 722.5,358.82" stroke-width="1" fill="none"/>
<polygon points="294.3,359.85 302.3,358.5 302.3,361.2" fill="#111" stroke="none"/>
<polygon points="679.4,358.93 671.4,360.28 671.4,357.58" fill="#111" stroke="none"/>
<polygon points="679.6,358.93 687.6,357.58 687.6,360.28" fill="#111" stroke="none"/>
<polygon points="722.5,358.72 714.5,360.07 714.5,357.37" fill="#111" stroke="none"/>
<text transform="translate(555 356.35)" font-size="9" text-anchor="middle" font-weight="bold">180</text>
<text transform="translate(701 356.42)" font-size="8.6" text-anchor="middle" font-weight="bold">20</text>
<text transform="translate(652.5 286)" font-size="7.8" font-weight="bold">R1</text>
<line x1="652" y1="287.7" x2="660" y2="287.7" stroke-width="1"/>
<line x1="659.8" y1="287.74" x2="694.2" y2="313.59" stroke-width="1"/>
<polygon points="681.2,303.73 687.6,306.87 685.98,309.02" fill="#111" stroke="none"/>
<text transform="translate(640 323.74)" font-size="7.8" font-weight="bold">R2</text>
<line x1="637" y1="326.03" x2="653.3" y2="326.03" stroke-width="1"/>
<line x1="653.3" y1="326.01" x2="664.8" y2="309.06" stroke-width="1"/>
<polygon points="665,308.76 662.48,314.9 660.25,313.39" fill="#111" stroke="none"/>
<line x1="710.4" y1="231.57" x2="710.4" y2="299.47" stroke-width="1"/>
<polygon points="710.4,231.57 711.75,239.57 709.05,239.57" fill="#111" stroke="none"/>
<polygon points="710.4,299.47 709.05,291.47 711.75,291.47" fill="#111" stroke="none"/>
<text transform="translate(707 283.45) rotate(-90)" font-size="8.6" font-weight="bold" textLength="18" lengthAdjust="spacingAndGlyphs">Ø34</text>
<line x1="747.8" y1="139.44" x2="747.8" y2="304.14" stroke-width="1"/>
<polygon points="747.9,226.74 746.55,218.74 749.25,218.74" fill="#111" stroke="none"/>
<polygon points="747.9,226.94 749.25,234.94 746.55,234.94" fill="#111" stroke="none"/>
<polygon points="747.8,304.14 746.45,296.14 749.15,296.14" fill="#111" stroke="none"/>
<text transform="translate(742.2 280.61) rotate(-90)" font-size="8.6" font-weight="bold" textLength="28.5" lengthAdjust="spacingAndGlyphs">Ø35k6</text>
<polygon points="741.7,304.21 753.3,304.27 747.5,313.44" stroke-width="0.6" fill="#111"/>
<line x1="747.5" y1="312.44" x2="747.5" y2="323.14" stroke-width="1"/>
<polyline points="740,323.1 755.3,323.17 755.3,337.67 740,337.6 740,323.1" stroke-width="1.25" fill="none"/>
<text transform="translate(747.6 333.74)" font-size="9.5" text-anchor="middle">B</text>
<polyline points="667.5,125.17 746.5,125.33 746.5,139.43 667.5,139.47 667.5,125.17" stroke-width="1.25" fill="none"/>
<line x1="683.8" y1="125.25" x2="683.8" y2="139.45" stroke-width="1"/>
<line x1="724.5" y1="125.33" x2="724.5" y2="139.43" stroke-width="1"/>
<circle cx="675.7" cy="132.31" r="4" stroke-width="1.3" fill="none"/>
<circle cx="675.7" cy="132.31" r="1.9" stroke-width="1.3" fill="none"/>
<text transform="translate(704 136.24)" font-size="7.8" text-anchor="middle" textLength="25" lengthAdjust="spacingAndGlyphs">0,010</text>
<text transform="translate(735.5 136.58)" font-size="8.6" text-anchor="middle">AB</text>
<polyline points="646.7,143.77 700.5,143.82 700.5,157.72 646.7,157.67 646.7,143.77" stroke-width="1.25" fill="none"/>
<line x1="663.4" y1="143.85" x2="663.4" y2="157.65" stroke-width="1"/>
<path d="M 650.6 152 L 653 143.8 M 657.4 152 L 659.8 143.8" stroke-width="1.3" fill="none" transform="translate(0 3.01)"/>
<circle cx="655.2" cy="151.01" r="2.8" stroke-width="1.3" fill="none"/>
<text transform="translate(669.5 154.08)" font-size="7.8" textLength="24" lengthAdjust="spacingAndGlyphs">0,005</text>
<line x1="701.4" y1="157.73" x2="701.4" y2="176.73" stroke-width="1"/>
<line x1="701.6" y1="206.23" x2="701.6" y2="226.23" stroke-width="1"/>
<polygon points="701.6,226.73 700.25,218.73 702.95,218.73" fill="#111" stroke="none"/>
<polyline points="689.8,176.17 680.2,182.13 689.8,188.17 689.8,176.17" stroke-width="1.25" fill="none"/>
<line x1="689.8" y1="188.17" x2="692.5" y2="193.19" stroke-width="1"/>
<text transform="translate(697.7 182.71) rotate(-90)" font-size="7.6" font-weight="bold" textLength="20" lengthAdjust="spacingAndGlyphs">Rz20</text>
<text transform="translate(682.3 211.14)" font-size="8.8" font-weight="bold" textLength="16.8" lengthAdjust="spacingAndGlyphs">R0,5</text>
<line x1="682.3" y1="213.14" x2="699" y2="213.14" stroke-width="1"/>
<line x1="682.3" y1="213.14" x2="685.3" y2="227.15" stroke-width="1"/>
<polygon points="685.5,227.95 682.83,221.88 685.47,221.31" fill="#111" stroke="none"/>
<line x1="716.3" y1="199.19" x2="686.2" y2="229.86" stroke-width="1"/>
<polyline points="746.4,200.23 725.3,200.14 709.2,215.86" stroke-width="1" fill="none"/>
<text transform="translate(729 197.95)" font-size="8.3" font-weight="bold">45°</text>
<path d="M 705.6 207 Q 710.5 213 710.6 222.5" stroke-width="1" fill="none" transform="translate(0 3.26)"/>
<polygon points="710.6,226.67 708.8,220.28 711.49,220.09" fill="#111" stroke="none"/>
<polygon points="705.4,209.84 709.86,212.56 707.63,214.56" fill="#111" stroke="none"/>
<polyline points="700.6,200.72 707.6,189.65 711.8,202.87 700.6,200.72" stroke-width="1.25" fill="none"/>
<line x1="711.8" y1="202.87" x2="708.5" y2="186.26" stroke-width="1"/>
<text transform="translate(696.8 201.41) rotate(-55)" font-size="7.3" font-weight="bold" textLength="17" lengthAdjust="spacingAndGlyphs">Rz20</text>
<polyline points="736.2,219.29 746.2,219.33 742,226.61 736.2,219.29" stroke-width="1.25" fill="none"/>
<line x1="746.2" y1="219.33" x2="747.6" y2="216.04" stroke-width="1.25"/>
<text transform="translate(724 215.03)" font-size="8.6" font-weight="bold" textLength="19.2" lengthAdjust="spacingAndGlyphs">Rz 20</text>
<line x1="375.2" y1="367.13" x2="767.5" y2="366.53" stroke-width="1.5"/>
<line x1="375.2" y1="367.13" x2="375.2" y2="489.33" stroke-width="1.5"/>
<line x1="391" y1="367.1" x2="391" y2="417.4" stroke-width="1.1"/>
<line x1="411" y1="367.19" x2="411" y2="488.49" stroke-width="1.1"/>
<line x1="459.6" y1="367.41" x2="459.6" y2="488.71" stroke-width="1.1"/>
<line x1="489.6" y1="367.55" x2="489.6" y2="488.85" stroke-width="1.1"/>
<line x1="511.2" y1="366.95" x2="511.2" y2="489.35" stroke-width="1.3"/>
<line x1="375.2" y1="379.53" x2="511.2" y2="379.45" stroke-width="1.1"/>
<line x1="375.2" y1="385.93" x2="511.2" y2="385.85" stroke-width="1.1"/>
<line x1="375.2" y1="392.33" x2="511.2" y2="392.25" stroke-width="1.1"/>
<line x1="375.2" y1="406.53" x2="511.2" y2="406.45" stroke-width="1.1"/>
<line x1="375.2" y1="417.53" x2="511.2" y2="417.45" stroke-width="1.1"/>
<line x1="375.2" y1="430.33" x2="511.2" y2="430.25" stroke-width="1.1"/>
<line x1="375.2" y1="439.53" x2="511.2" y2="439.45" stroke-width="1.1"/>
<line x1="375.2" y1="452.33" x2="511.2" y2="452.25" stroke-width="1.1"/>
<line x1="375.2" y1="464.33" x2="511.2" y2="464.25" stroke-width="1.1"/>
<line x1="375.2" y1="476.33" x2="511.2" y2="476.25" stroke-width="1.1"/>
<line x1="511.2" y1="392.05" x2="767.5" y2="392.43" stroke-width="1.3"/>
<line x1="511.2" y1="451.75" x2="661.3" y2="451.44" stroke-width="1.3"/>
<line x1="661.3" y1="392.44" x2="661.3" y2="489.04" stroke-width="1.3"/>
<line x1="661.3" y1="404.54" x2="767.5" y2="404.53" stroke-width="1.1"/>
<line x1="661.3" y1="439.34" x2="767.5" y2="439.33" stroke-width="1.1"/>
<line x1="661.3" y1="451.84" x2="767.5" y2="451.73" stroke-width="1.3"/>
<line x1="672.8" y1="404.49" x2="672.8" y2="439.29" stroke-width="1.1"/>
<line x1="683.6" y1="404.54" x2="683.6" y2="439.34" stroke-width="1.1"/>
<line x1="694.6" y1="392.4" x2="694.6" y2="439.4" stroke-width="1.1"/>
<line x1="728" y1="392.35" x2="728" y2="439.35" stroke-width="1.1"/>
<line x1="705.4" y1="439.24" x2="705.4" y2="451.14" stroke-width="1.1"/>
<text transform="translate(376.2 414.13)" font-size="7" font-weight="bold" textLength="13" lengthAdjust="spacingAndGlyphs">Изм</text>
<text transform="translate(393 414.21)" font-size="7" font-weight="bold" textLength="16.6" lengthAdjust="spacingAndGlyphs">Лист</text>
<text transform="translate(418.4 414.32)" font-size="7" font-weight="bold" textLength="31.2" lengthAdjust="spacingAndGlyphs">№ докум</text>
<text transform="translate(465 414.54)" font-size="7" font-weight="bold" textLength="18" lengthAdjust="spacingAndGlyphs">Подп</text>
<text transform="translate(491 414.66)" font-size="7" font-weight="bold" textLength="19" lengthAdjust="spacingAndGlyphs">Дата</text>
<text transform="translate(379.4 426.55)" font-size="8.2" textLength="27" lengthAdjust="spacingAndGlyphs">Разраб</text>
<text transform="translate(564.2 425)" font-size="16.5" textLength="46" lengthAdjust="spacingAndGlyphs">Червяк</text>
<text transform="translate(567.4 468.01)" font-size="10" textLength="47" lengthAdjust="spacingAndGlyphs">Сталь 45</text>
<text transform="translate(556 478.36)" font-size="9.5" textLength="66.5" lengthAdjust="spacingAndGlyphs">ГОСТ 1050–74</text>
<text transform="translate(668.8 400.58)" font-size="8" textLength="18.5" lengthAdjust="spacingAndGlyphs">Лит.</text>
<text transform="translate(698 400.51)" font-size="8" textLength="24.5" lengthAdjust="spacingAndGlyphs">Масса</text>
<text transform="translate(729.5 400.36)" font-size="8" textLength="36.5" lengthAdjust="spacingAndGlyphs">Масштаб</text>
<text transform="translate(747 423.44)" font-size="10.5" text-anchor="middle" font-weight="bold" letter-spacing="1.2">1:1</text>
<text transform="translate(666 448.46)" font-size="8.3" textLength="31.5" lengthAdjust="spacingAndGlyphs">Лист 1</text>
<text transform="translate(716 448.49)" font-size="8.3" textLength="39.5" lengthAdjust="spacingAndGlyphs">Листов 1</text>
<text transform="translate(59 433.67)" font-size="9.8" textLength="5.2" lengthAdjust="spacingAndGlyphs">1.</text>
<text transform="translate(68.5 433.67)" font-size="9.8" textLength="77.5" lengthAdjust="spacingAndGlyphs">Термообработка</text>
<text transform="translate(148.7 433.67)" font-size="9.8" textLength="34.6" lengthAdjust="spacingAndGlyphs">–витки</text>
<text transform="translate(188.5 433.67)" font-size="9.8" textLength="32" lengthAdjust="spacingAndGlyphs">калить</text>
<text transform="translate(228 433.67)" font-size="9.8" textLength="18" lengthAdjust="spacingAndGlyphs">ТВЧ</text>
<text transform="translate(255.7 433.67)" font-size="9.8" textLength="21" lengthAdjust="spacingAndGlyphs">HRC</text>
<text transform="translate(280 433.67)" font-size="9.8" textLength="26" lengthAdjust="spacingAndGlyphs">45…5</text>
<text transform="translate(59 446.27)" font-size="9.8" textLength="5.2" lengthAdjust="spacingAndGlyphs">2.</text>
<text transform="translate(67.4 446.27)" font-size="9.8" textLength="33.9" lengthAdjust="spacingAndGlyphs">Острые</text>
<text transform="translate(112.8 446.27)" font-size="9.8" textLength="33.2" lengthAdjust="spacingAndGlyphs">кромки</text>
<text transform="translate(155 446.27)" font-size="9.8" textLength="50" lengthAdjust="spacingAndGlyphs">притупить</text>
<text transform="translate(229.5 446.27)" font-size="9.8" textLength="15.5" lengthAdjust="spacingAndGlyphs">0,3</text>
<text transform="translate(214 446.18)" font-size="7.6" textLength="13" lengthAdjust="spacingAndGlyphs">R ≈</text>
<text transform="translate(59 459.27)" font-size="9.8" textLength="5.2" lengthAdjust="spacingAndGlyphs">3.</text>
<text transform="translate(69.2 459.27)" font-size="9.8" textLength="65.4" lengthAdjust="spacingAndGlyphs">Неуказанные</text>
<text transform="translate(141 459.27)" font-size="9.8" textLength="55" lengthAdjust="spacingAndGlyphs">предельные</text>
<text transform="translate(203.4 459.27)" font-size="9.8" textLength="48.9" lengthAdjust="spacingAndGlyphs">отклонения</text>
<text transform="translate(258 459.27)" font-size="9.8" textLength="48" lengthAdjust="spacingAndGlyphs">размеров</text>
<text transform="translate(308.3 459.27)" font-size="9.8" textLength="2.5" lengthAdjust="spacingAndGlyphs">:</text>
<text transform="translate(70.5 471.72)" font-size="9.8" textLength="28.2" lengthAdjust="spacingAndGlyphs">валов</text>
<text transform="translate(102.5 471.72)" font-size="9.8" textLength="24.5" lengthAdjust="spacingAndGlyphs">h 14,</text>
<text transform="translate(133.3 471.72)" font-size="9.8" textLength="50" lengthAdjust="spacingAndGlyphs">остальных</text>
<text transform="translate(190.5 471.72)" font-size="9.8" textLength="5.1" lengthAdjust="spacingAndGlyphs">±</text>
<text transform="translate(198.7 471.72)" font-size="9.8" textLength="11.3" lengthAdjust="spacingAndGlyphs">IT</text>
<text transform="translate(211.5 471.72)" font-size="9.8" textLength="21.5" lengthAdjust="spacingAndGlyphs">14/2</text>
</g>
</svg>
</body></html>
